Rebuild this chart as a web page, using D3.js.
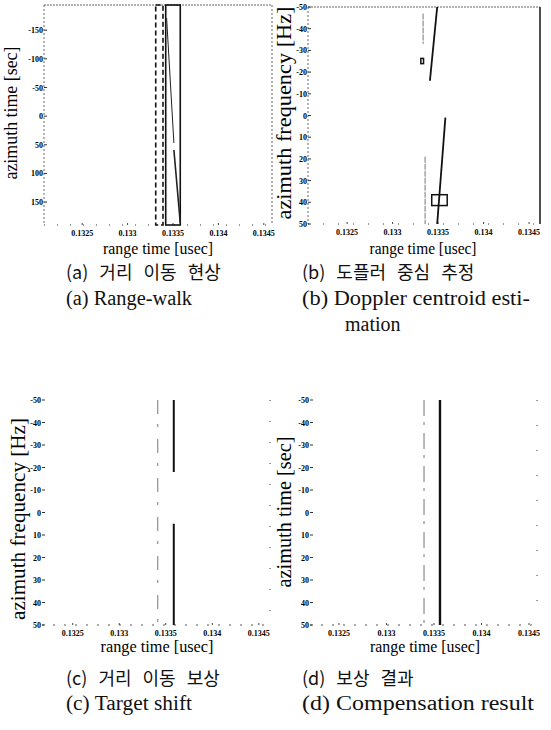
<!DOCTYPE html>
<html>
<head>
<meta charset="utf-8">
<script src="https://cdn.jsdelivr.net/npm/d3@7"></script>
<style>
body { margin: 0; background: #fff; }
svg { display: block; }
</style>
</head>
<body>
<svg id="fig" width="551" height="730"></svg>
<script>
// tick values
var rangeTicks = [0.1325, 0.133, 0.1335, 0.134, 0.1345];
var rangeTickLabels = ["0.1325", "0.133", "0.1335", "0.134", "0.1345"];
var timeTicksA = [-150, -100, -50, 0, 50, 100, 150];
var freqTicks = [-50, -40, -30, -20, -10, 0, 10, 20, 30, 40, 50];

// (a) range walk: the target trace and the two windows
var walkSegments = [
    [[0.13343, -171], [0.13351, 47]],
    [[0.13351, 59], [0.13358, 186]]
];
var walkBox = [0.13342, 0.13358];
var walkDashBox = [0.13331, 0.13339];

// (b) doppler centroid estimation
var dopplerSegments = [
    [[0.13349, -50], [0.13341, -16]],
    [[0.13358, 1], [0.13349, 50]]
];
var dopplerGuides = [
    [[0.133335, -47], [0.133335, -33]],
    [[0.133357, 19], [0.133357, 50]]
];
var dopplerMarks = [
    [0.13331, 0.13334, -26.3, -23.9],
    [0.13343, 0.13360, 36.5, 41.5]
];

// (c) target shift
var shiftX = 0.133586;
var shiftSegments = [[-50, -18], [5, 50]];
var shiftGuideX = 0.133414;

// (d) compensation result
var compX = 0.133563;
var compGuideX = 0.133395;

var captionsKo = ["(a) 거리 이동 현상", "(b) 도플러 중심 추정", "(c) 거리 이동 보상", "(d) 보상 결과"];
var captionsEn = ["(a) Range-walk", "(b) Doppler centroid esti-", "(c) Target shift", "(d) Compensation result"];

var svg = d3.select("#fig");
var serif = "'Liberation Serif', 'Times New Roman', serif";
var axisGray = "#666";

function make_panel(p) {
    var g = svg.append("g");
    var x = d3.scaleLinear().domain(p.xDomain).range([p.left, p.right]);
    var y = d3.scaleLinear().domain(p.yDomain).range([p.top, p.bottom]);

    // frame, scanned look: dotted sides
    p.sides.forEach(function (s) {
        var pts = {
            top: [p.left, p.top, p.right, p.top],
            bottom: [p.left, p.bottom, p.right, p.bottom],
            left: [p.left, p.top, p.left, p.bottom],
            right: [p.right, p.top, p.right, p.bottom]
        }[s.side];
        g.append("line")
            .attr("x1", pts[0]).attr("y1", pts[1])
            .attr("x2", pts[2]).attr("y2", pts[3])
            .attr("stroke", s.color || axisGray)
            .attr("stroke-width", s.width || 1)
            .attr("stroke-dasharray", s.dash || null);
    });

    // y ticks (inside) and labels
    g.selectAll(".ytick").data(p.yTicks).enter()
        .append("line")
        .attr("x1", p.left).attr("x2", p.left + 3)
        .attr("y1", function (d) { return y(d); })
        .attr("y2", function (d) { return y(d); })
        .attr("stroke", "#333").attr("stroke-width", 1);
    g.selectAll(".ylab").data(p.yTicks).enter()
        .append("text")
        .attr("x", p.left - 1)
        .attr("y", function (d) { return y(d) + 3; })
        .attr("text-anchor", "end")
        .attr("font-family", serif)
        .attr("font-weight", "bold")
        .attr("font-size", 8)
        .text(function (d) { return d; });

    // x ticks and labels
    g.selectAll(".xtick").data(rangeTicks).enter()
        .append("line")
        .attr("x1", function (d) { return x(d); })
        .attr("x2", function (d) { return x(d); })
        .attr("y1", p.bottom).attr("y2", p.bottom - 2)
        .attr("stroke", "#444");
    g.selectAll(".xlab").data(rangeTicks).enter()
        .append("text")
        .attr("x", function (d) { return x(d); })
        .attr("y", p.bottom + 11)
        .attr("text-anchor", "middle")
        .attr("font-family", serif)
        .attr("font-weight", "bold")
        .attr("font-size", 8)
        .text(function (d, i) { return rangeTickLabels[i]; });

    // axis titles
    g.append("text")
        .attr("x", p.xTitle[0]).attr("y", p.xTitle[1])
        .attr("text-anchor", "middle")
        .attr("font-family", serif)
        .attr("font-size", p.xTitle[2])
        .attr("textLength", p.xTitle[3])
        .attr("lengthAdjust", "spacingAndGlyphs")
        .text("range time [usec]");
    g.append("text")
        .attr("transform", "translate(" + p.yTitle[0] + "," + p.yTitle[1] + ") rotate(-90)")
        .attr("text-anchor", "middle")
        .attr("font-family", serif)
        .attr("font-size", p.yTitle[2])
        .attr("textLength", p.yTitle[3])
        .attr("lengthAdjust", "spacingAndGlyphs")
        .text(p.yLabel);

    return { g: g, x: x, y: y };
}

var line = d3.line();

// ---------- (a)
var A = make_panel({
    left: 44, right: 272, top: 5, bottom: 225,
    xDomain: [0.13208, 0.13459], yDomain: [-194, 190],
    yTicks: timeTicksA,
    yLabel: "azimuth time [sec]",
    xTitle: [158, 254, 16, 110],
    yTitle: [17, 113, 18, 133],
    sides: [
        { side: "top", dash: "2,1" },
        { side: "left", dash: "2,2" },
        { side: "bottom", dash: "1,12", color: "#333" },
        { side: "right", dash: "2,2" }
    ]
});
A.g.append("rect")
    .attr("x", A.x(walkDashBox[0])).attr("y", A.y(-194))
    .attr("width", A.x(walkDashBox[1]) - A.x(walkDashBox[0]))
    .attr("height", A.y(190) - A.y(-194))
    .attr("fill", "none").attr("stroke", "#111")
    .attr("stroke-width", 1.6).attr("stroke-dasharray", "5,3");
A.g.append("rect")
    .attr("x", A.x(walkBox[0])).attr("y", A.y(-194))
    .attr("width", A.x(walkBox[1]) - A.x(walkBox[0]))
    .attr("height", A.y(190) - A.y(-194))
    .attr("fill", "none").attr("stroke", "#111").attr("stroke-width", 1.6);
A.g.selectAll(".walk").data(walkSegments).enter()
    .append("path")
    .attr("d", function (s) { return line(s.map(function (d) { return [A.x(d[0]), A.y(d[1])]; })); })
    .attr("fill", "none").attr("stroke", "#222")
    .attr("stroke-width", function (s, i) { return i ? 1.6 : 1; });

// ---------- (b)
var B = make_panel({
    left: 308, right: 540, top: 7, bottom: 224,
    xDomain: [0.13207, 0.13462], yDomain: [-50, 50],
    yTicks: freqTicks,
    yLabel: "azimuth frequency [Hz]",
    xTitle: [423, 254, 16, 107],
    yTitle: [291, 113, 20, 213],
    sides: [
        { side: "top", dash: "2,1" },
        { side: "left", dash: "2,2" },
        { side: "bottom", dash: "1,14", color: "#333" },
        { side: "right", color: "#222", width: 1.6 }
    ]
});
B.g.selectAll(".guide").data(dopplerGuides).enter()
    .append("path")
    .attr("d", function (s) { return line(s.map(function (d) { return [B.x(d[0]), B.y(d[1])]; })); })
    .attr("stroke", "#777").attr("stroke-width", 1).attr("stroke-dasharray", "6,1");
B.g.selectAll(".dop").data(dopplerSegments).enter()
    .append("path")
    .attr("d", function (s) { return line(s.map(function (d) { return [B.x(d[0]), B.y(d[1])]; })); })
    .attr("fill", "none").attr("stroke", "#111").attr("stroke-width", 1.8);
B.g.selectAll(".mark").data(dopplerMarks).enter()
    .append("rect")
    .attr("x", function (d) { return B.x(d[0]); })
    .attr("y", function (d) { return B.y(d[2]); })
    .attr("width", function (d) { return B.x(d[1]) - B.x(d[0]); })
    .attr("height", function (d) { return B.y(d[3]) - B.y(d[2]); })
    .attr("fill", "none").attr("stroke", "#111").attr("stroke-width", 1.5);

// ---------- (c)
var C = make_panel({
    left: 42, right: 270, top: 400, bottom: 625,
    xDomain: [0.13217, 0.13462], yDomain: [-50, 50],
    yTicks: freqTicks,
    yLabel: "azimuth frequency [Hz]",
    xTitle: [157, 652, 17, 113],
    yTitle: [25, 519, 21, 202],
    sides: [
        { side: "bottom", dash: "2,9", color: "#555" },
        { side: "right", dash: "1,20", color: "#333" }
    ]
});
C.g.append("line")
    .attr("x1", C.x(shiftGuideX)).attr("x2", C.x(shiftGuideX))
    .attr("y1", C.y(-50)).attr("y2", C.y(50))
    .attr("stroke", "#777").attr("stroke-width", 1).attr("stroke-dasharray", "14,10,3,12");
C.g.selectAll(".shift").data(shiftSegments).enter()
    .append("line")
    .attr("x1", C.x(shiftX)).attr("x2", C.x(shiftX))
    .attr("y1", function (d) { return C.y(d[0]); })
    .attr("y2", function (d) { return C.y(d[1]); })
    .attr("stroke", "#111").attr("stroke-width", 2);

// ---------- (d)
var D = make_panel({
    left: 310, right: 537, top: 400, bottom: 625,
    xDomain: [0.132195, 0.134584], yDomain: [-50, 50],
    yTicks: freqTicks,
    yLabel: "azimuth time [sec]",
    xTitle: [425, 652, 17, 110],
    yTitle: [291, 512, 20, 151],
    sides: [
        { side: "bottom", dash: "2,9", color: "#555" },
        { side: "right", dash: "1,24", color: "#333" }
    ]
});
D.g.append("line")
    .attr("x1", D.x(compGuideX)).attr("x2", D.x(compGuideX))
    .attr("y1", D.y(-50)).attr("y2", D.y(50))
    .attr("stroke", "#777").attr("stroke-width", 1).attr("stroke-dasharray", "16,6,3,8");
D.g.append("line")
    .attr("x1", D.x(compX)).attr("x2", D.x(compX))
    .attr("y1", D.y(-50)).attr("y2", D.y(50))
    .attr("stroke", "#111").attr("stroke-width", 2.4);

// ---------- captions
var capX = [66, 302, 66, 302];
var capKoY = [279, 279, 685, 685];
var capEnY = [305, 305, 710, 710];
var capEnW = [126, 228, 126, 232];
svg.selectAll(".capko").data(captionsKo).enter()
    .append("text")
    .attr("x", function (d, i) { return capX[i]; })
    .attr("y", function (d, i) { return capKoY[i]; })
    .attr("font-family", "'Noto Sans CJK KR', sans-serif")
    .attr("font-weight", 400)
    .attr("font-size", 18)
    .attr("fill", "#111")
    .attr("word-spacing", 7)
    .text(function (d) { return d; });
svg.selectAll(".capen").data(captionsEn).enter()
    .append("text")
    .attr("x", function (d, i) { return capX[i]; })
    .attr("y", function (d, i) { return capEnY[i]; })
    .attr("font-family", serif)
    .attr("font-size", 20)
    .attr("fill", "#111")
    .attr("textLength", function (d, i) { return capEnW[i]; })
    .attr("lengthAdjust", "spacingAndGlyphs")
    .text(function (d) { return d; });
svg.append("text")
    .attr("x", 345).attr("y", 331)
    .attr("font-family", serif)
    .attr("font-size", 20)
    .attr("fill", "#111")
    .text("mation");
</script>
</body>
</html>
